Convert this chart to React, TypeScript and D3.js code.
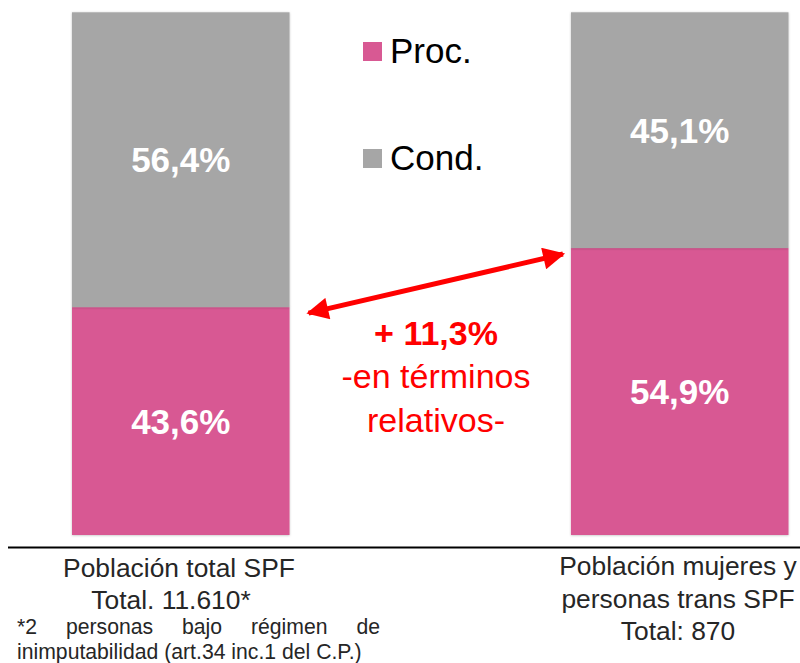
import React, { useEffect, useRef } from "react";
import * as d3 from "d3";

const categories = ["total", "mujeres"];
const seriesKeys = ["Proc.", "Cond."];
const procValues = [43.6, 54.9];
const condValues = [56.4, 45.1];
const categoryLabels = [
  ["Población total SPF", "Total. 11.610*"],
  ["Población mujeres y", "personas trans SPF", "Total: 870"],
];
const footnoteWords = ["*2", "personas", "bajo", "régimen", "de"];
const footnoteLast = "inimputabilidad (art.34 inc.1 del C.P.)";
const diffLines = ["+ 11,3%", "-en términos", "relativos-"];

const colors: Record<string, string> = { "Proc.": "#D85993", "Cond.": "#A6A6A6" };
const font = "'Liberation Sans', Arial, sans-serif";

const W = 800;
const H = 663;

const fmt = (v: number) => v.toFixed(1).replace(".", ",") + "%";

export default function App() {
  const footRef = useRef<SVGGElement>(null);

  const rows = categories.map((c, i) => ({ cat: c, "Proc.": procValues[i], "Cond.": condValues[i] }));
  const stacked = d3.stack<any>().keys(seriesKeys)(rows);

  const x = d3.scaleBand().domain(categories).range([72, 788.5]).paddingInner(0.564).paddingOuter(0);
  const y = d3.scaleLinear().domain([0, 100]).range([535, 12.3]);

  // arrow between the tops of the two pink segments
  const ax1 = x(categories[0])! + x.bandwidth() + 19;
  const ay1 = y(procValues[0]) + 6;
  const ax2 = x(categories[1])! - 8;
  const ay2 = y(procValues[1]) + 6;

  // justify the first footnote line
  useEffect(() => {
    const g = d3.select(footRef.current);
    const left = 17;
    const right = 380;
    const texts = g.selectAll<SVGTextElement, string>("text.w").nodes();
    const widths = texts.map((t) => t.getComputedTextLength());
    const total = d3.sum(widths);
    const gap = (right - left - total) / (texts.length - 1);
    let cx = left;
    texts.forEach((t, i) => {
      t.setAttribute("x", String(cx));
      cx += widths[i] + gap;
    });
  }, []);

  return (
    <svg width={W} height={H} style={{ position: "absolute", left: 0, top: 0, background: "#fff" }} fontFamily={font}>
      <defs>
        <filter id="sh" x="-5%" y="-5%" width="110%" height="110%">
          <feDropShadow dx="0" dy="0.5" stdDeviation="1" floodColor="#000" floodOpacity="0.25" />
        </filter>
        <marker id="ah" viewBox="0 0 10 10" refX="9" refY="5" markerWidth="5.2" markerHeight="4.4" orient="auto-start-reverse" markerUnits="strokeWidth">
          <path d="M0,0 L10,5 L0,10 Z" fill="#FF0000" />
        </marker>
      </defs>

      {stacked.map((s) => (
        <g key={s.key} fill={colors[s.key]}>
          {s.map((d, i) => (
            <rect
              key={i}
              x={x(categories[i])}
              y={y(d[1])}
              width={x.bandwidth()}
              height={y(d[0]) - y(d[1])}
              filter="url(#sh)"
            />
          ))}
        </g>
      ))}

      {stacked.map((s) =>
        s.map((d, i) => (
          <text
            key={s.key + i}
            x={x(categories[i])! + x.bandwidth() / 2}
            y={(y(d[0]) + y(d[1])) / 2}
            dy="0.36em"
            textAnchor="middle"
            fill="#fff"
            fontWeight="bold"
            fontSize={35}
          >
            {fmt(d[1] - d[0])}
          </text>
        ))
      )}

      {/* legend */}
      {seriesKeys.map((k, i) => (
        <g key={k} transform={`translate(363,${42 + i * 107})`}>
          <rect width={19} height={19} fill={colors[k]} />
          <text x={27} y={21} fontSize={35} fill="#000">
            {k}
          </text>
        </g>
      ))}

      {/* baseline */}
      <line x1={8} x2={800} y1={547.5} y2={547.5} stroke="#000" strokeWidth={2} />

      {/* double arrow */}
      <line x1={ax1} y1={ay1} x2={ax2} y2={ay2} stroke="#FF0000" strokeWidth={5} markerStart="url(#ah)" markerEnd="url(#ah)" />

      {/* difference annotation */}
      <g fill="#FF0000" textAnchor="middle" fontSize={34}>
        <text x={436} y={345} fontWeight="bold">{diffLines[0]}</text>
        <text x={436} y={388}>{diffLines[1]}</text>
        <text x={436} y={432}>{diffLines[2]}</text>
      </g>

      {/* category labels */}
      <g fill="#262626" fontSize={26.4} textAnchor="middle">
        <text x={179} y={577}>{categoryLabels[0][0]}</text>
        <text x={171} y={609}>{categoryLabels[0][1]}</text>
        {categoryLabels[1].map((l, i) => (
          <text key={l} x={678} y={575 + i * 32.5}>{l}</text>
        ))}
      </g>

      {/* footnote */}
      <g ref={footRef} fill="#262626" fontSize={21.2}>
        {footnoteWords.map((w) => (
          <text key={w} className="w" x={17} y={634}>{w}</text>
        ))}
        <text x={17} y={658.5}>{footnoteLast}</text>
      </g>
    </svg>
  );
}
